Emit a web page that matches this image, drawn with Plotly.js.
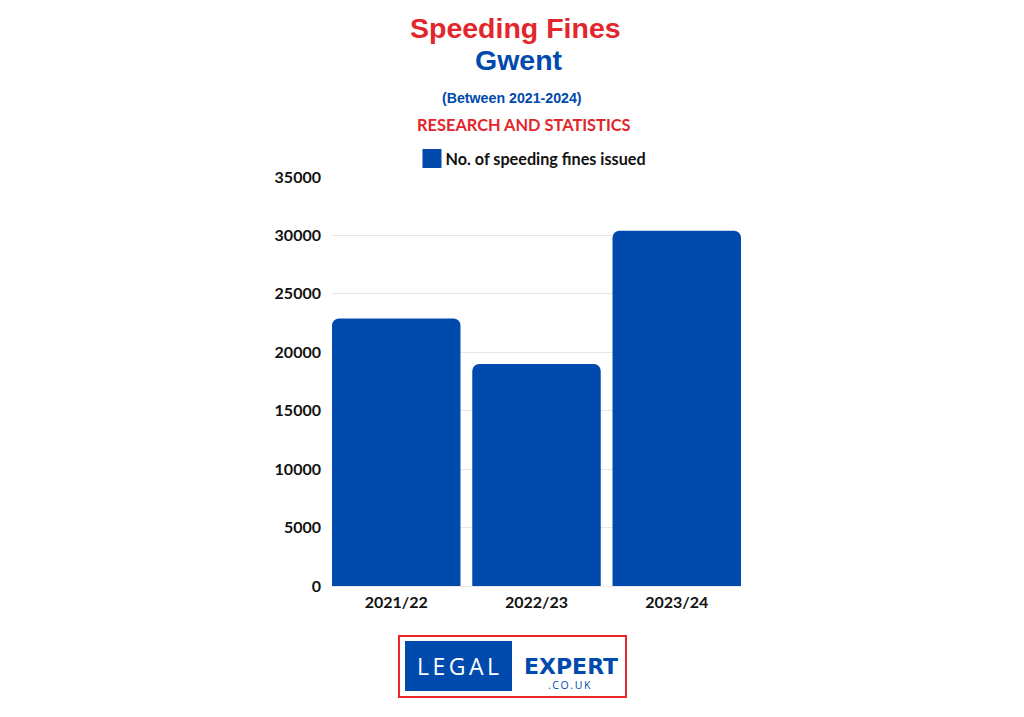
<!DOCTYPE html>
<html>
<head>
<meta charset="utf-8">
<script src="https://cdn.plot.ly/plotly-3.0.1.min.js"></script>
<style>
html,body{margin:0;padding:0;background:#fff;}
#chart{width:1024px;height:717px;}
text[data-unformatted="LEGAL"]{letter-spacing:3.5px;}
text[data-unformatted=".CO.UK"]{letter-spacing:1.6px;}
</style>
</head>
<body>
<div id="chart"></div>
<script>
const categories = ["2021/22", "2022/23", "2023/24"];
const fines = [22900, 19000, 30400];
const seriesName = "No. of speeding fines issued";
const yTicks = [0, 5000, 10000, 15000, 20000, 25000, 30000, 35000];

const blue = "#004aad";
const red = "#e3262b";

const trace = {
  type: "bar",
  x: categories,
  y: fines,
  name: seriesName,
  marker: {color: blue, cornerradius: 7},
  hoverinfo: "x+y"
};

const layout = {
  width: 1024,
  height: 717,
  margin: {l: 332, r: 283, t: 177, b: 131},
  paper_bgcolor: "#fff",
  plot_bgcolor: "#fff",
  bargap: 0.084,
  showlegend: true,
  legend: {
    orientation: "h",
    x: 0.4804, xanchor: "center",
    y: 1.044, yanchor: "middle",
    font: {family: "Lato", size: 16.2, color: "#111", weight: "bold"},
    itemwidth: 30
  },
  xaxis: {
    type: "category",
    range: [-0.458, 2.458],
    tickfont: {family: "Lato", size: 16, color: "#111", weight: "bold"},
    showgrid: false,
    showline: false,
    ticks: "",
    ticklabelstandoff: 5
  },
  yaxis: {
    range: [0, 35000],
    tickvals: yTicks,
    ticktext: yTicks.map(String),
    tickfont: {family: "Lato", size: 16, color: "#111", weight: "bold"},
    gridcolor: "#e6e6e6",
    gridwidth: 1,
    zeroline: true,
    zerolinecolor: "#e6e6e6",
    zerolinewidth: 1,
    ticks: "",
    ticklabelstandoff: 10,
    showline: false
  },
  shapes: [
    {type: "rect", xref: "paper", yref: "paper", x0: (399-332)/409, x1: (626-332)/409, y0: (586-697)/409, y1: (586-636)/409,
     line: {color: "#e8262b", width: 2}, fillcolor: "#fff", layer: "below"},
    {type: "rect", xref: "paper", yref: "paper", x0: (405-332)/409, x1: (512-332)/409, y0: (586-691)/409, y1: (586-641)/409,
     line: {width: 0}, fillcolor: blue, layer: "below"}
  ],
  annotations: [
    {text: "Speeding Fines", xref: "paper", yref: "paper", x: (515.5-332)/409, y: (586-28)/409,
     xanchor: "center", yanchor: "middle", showarrow: false,
     font: {family: "Liberation Sans, Arial", size: 28.5, color: red, weight: "bold"}},
    {text: "Gwent", xref: "paper", yref: "paper", x: (519-332)/409, y: (586-60)/409,
     xanchor: "center", yanchor: "middle", showarrow: false,
     font: {family: "Liberation Sans, Arial", size: 28.5, color: blue, weight: "bold"}},
    {text: "(Between 2021-2024)", xref: "paper", yref: "paper", x: (511.5-332)/409, y: (586-98)/409,
     xanchor: "center", yanchor: "middle", showarrow: false,
     font: {family: "Liberation Sans, Arial", size: 14.2, color: blue, weight: "bold"}},
    {text: "RESEARCH AND STATISTICS", xref: "paper", yref: "paper", x: (524-332)/409, y: (586-124)/409,
     xanchor: "center", yanchor: "middle", showarrow: false,
     font: {family: "Lato", size: 16.4, color: red, weight: "bold"}},
    {text: "LEGAL", xref: "paper", yref: "paper", x: (460-332)/409, y: (586-666)/409,
     xanchor: "center", yanchor: "middle", showarrow: false,
     font: {family: "Open Sans", size: 23, color: "#fff", weight: "normal"}},
    {text: "EXPERT", xref: "paper", yref: "paper", x: (570.5-332)/409, y: (586-666)/409,
     xanchor: "center", yanchor: "middle", showarrow: false,
     font: {family: "DejaVu Sans", size: 22, color: blue, weight: "bold"}},
    {text: ".CO.UK", xref: "paper", yref: "paper", x: (570-332)/409, y: (586-684.5)/409,
     xanchor: "center", yanchor: "middle", showarrow: false,
     font: {family: "Open Sans", size: 10.5, color: blue}}
  ]
};

Plotly.newPlot("chart", [trace], layout, {displayModeBar: false}).then(function (gd) {
  gd.querySelectorAll(".legend .legendpoints path").forEach(function (p) {
    p.setAttribute("d", "M16,9.5H-3V-9.5H16Z");
  });
});
</script>
</body>
</html>
